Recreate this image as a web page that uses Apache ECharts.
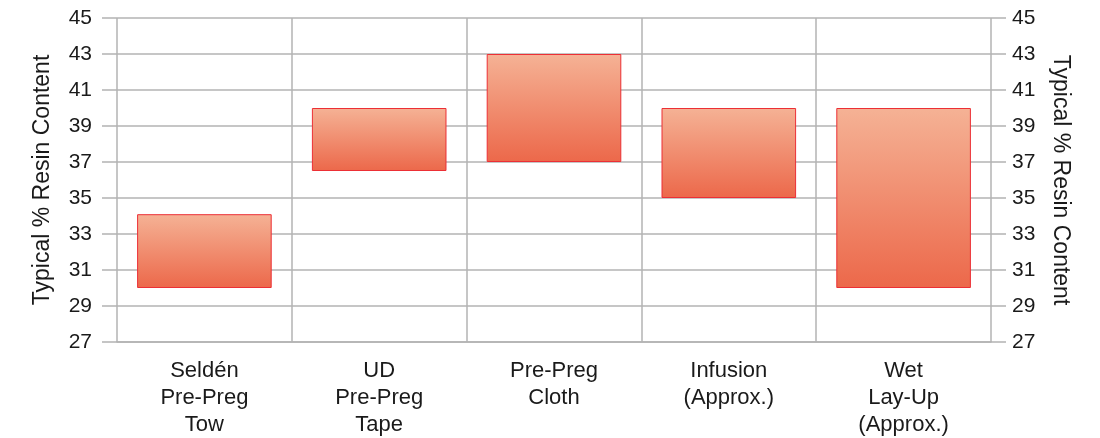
<!DOCTYPE html>
<html>
<head>
<meta charset="utf-8">
<script src="https://cdn.jsdelivr.net/npm/echarts@6/dist/echarts.min.js"></script>
<style>html,body{margin:0;padding:0;background:#fff}#c{width:1100px;height:438px}</style>
</head>
<body>
<div id="c"></div>
<script>
const categories = ['Seldén\nPre-Preg\nTow', 'UD\nPre-Preg\nTape', 'Pre-Preg\nCloth', 'Infusion\n(Approx.)', 'Wet\nLay-Up\n(Approx.)'];
const lowValues = [30, 36.5, 37, 35, 30];
const highValues = [34.1, 40, 43, 40, 40];
const yTickLabels = [27, 29, 31, 33, 35, 37, 39, 41, 43, 45];
const axisTitle = 'Typical % Resin Content';

const yBase = yTickLabels[0];
const yStep = yTickLabels[1] - yTickLabels[0];
const ySpan = yTickLabels[yTickLabels.length - 1] - yBase;

const gray = '#b3b3b3';
const font = 'Liberation Sans, Arial, Helvetica, sans-serif';
const textColor = '#1a1a1a';

const yAxisCommon = {
  type: 'value', min: 0, max: ySpan, interval: yStep,
  axisLine: { show: false },
  axisTick: { show: true, length: 15, lineStyle: { color: gray, width: 1.5 } },
  axisLabel: { color: textColor, fontSize: 21, fontFamily: font, formatter: v => String(v + yBase) },
  nameLocation: 'middle',
  nameTextStyle: { color: textColor, fontSize: 23, fontFamily: font }
};

const chart = echarts.init(document.getElementById('c'));
chart.setOption({
  animation: false,
  grid: { left: 117, right: 109, top: 18, bottom: 96, containLabel: false, outerBoundsMode: 'none' },
  xAxis: {
    type: 'category', data: categories,
    axisLine: { show: true, lineStyle: { color: gray, width: 1.5 } },
    axisTick: { show: false },
    splitLine: { show: true, lineStyle: { color: gray, width: 1.5 } },
    axisLabel: { color: textColor, fontSize: 22, fontFamily: font, lineHeight: 27, margin: 15, interval: 0 }
  },
  yAxis: [
    Object.assign({}, yAxisCommon, {
      position: 'left', name: axisTitle, nameGap: 63, nameRotate: 90,
      axisLabel: Object.assign({}, yAxisCommon.axisLabel, { margin: 25 }),
      splitLine: { show: true, lineStyle: { color: gray, width: 1.5 } }
    }),
    Object.assign({}, yAxisCommon, {
      position: 'right', name: axisTitle, nameGap: 58, nameRotate: -90,
      axisLabel: Object.assign({}, yAxisCommon.axisLabel, { margin: 21 }),
      splitLine: { show: false }
    })
  ],
  series: [
    {
      type: 'bar', stack: 'r', barCategoryGap: '23%',
      itemStyle: { color: 'transparent' },
      data: lowValues.map(v => v - yBase)
    },
    {
      type: 'bar', stack: 'r',
      itemStyle: {
        color: new echarts.graphic.LinearGradient(0, 0, 0, 1, [
          { offset: 0, color: '#f5b295' },
          { offset: 1, color: '#ec684a' }
        ]),
        borderColor: '#ec2f35', borderWidth: 1
      },
      data: highValues.map((v, i) => +(v - lowValues[i]).toFixed(3))
    }
  ]
});
</script>
</body>
</html>
